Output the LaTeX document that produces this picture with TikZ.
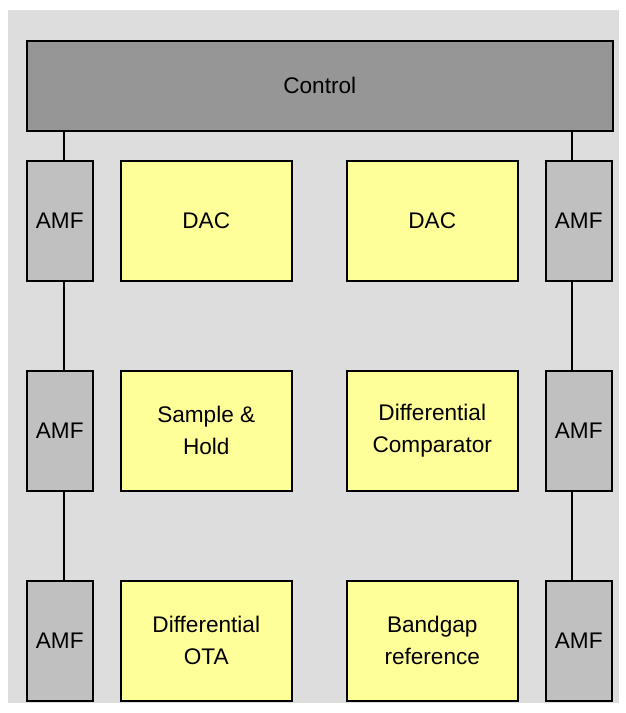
\documentclass[tikz,border=0pt]{standalone}
\usepackage{fontspec}
\setmainfont{Liberation Sans}
\definecolor{bgc}{HTML}{DDDDDD}
\definecolor{ctlc}{HTML}{969696}
\definecolor{amfc}{HTML}{C0C0C0}
\definecolor{yelc}{HTML}{FFFF99}
\begin{document}
\begin{tikzpicture}[x=1pt,y=-1pt,
  box/.style={draw=black,line width=1.5pt,anchor=north west,inner sep=0pt,align=center,
    font=\fontsize{22.6}{32}\selectfont},
  amf/.style={box,fill=amfc,minimum width=66pt,minimum height=120pt},
  blk/.style={box,fill=yelc,minimum width=171pt,minimum height=120pt},
  wire/.style={line width=1.5pt}]
\useasboundingbox (0,0) rectangle (625,713);
\fill[bgc] (8,10) rectangle (619,703);
\node[box,fill=ctlc,minimum width=586pt,minimum height=90pt] (ctl) at (26,40) {Control};
\node[amf] (L1) at (26,160) {AMF};
\node[amf] (L2) at (26,370) {AMF};
\node[amf] (L3) at (26,580) {AMF};
\node[amf] (R1) at (545,160) {AMF};
\node[amf] (R2) at (545,370) {AMF};
\node[amf] (R3) at (545,580) {AMF};
\node[blk] (d1) at (120,160) {DAC};
\node[blk] (d2) at (346,160) {DAC};
\node[blk] (sh) at (120,370) {Sample \&\\Hold};
\node[blk] (dc) at (346,370) {Differential\\Comparator};
\node[blk] (ota) at (120,580) {Differential\\OTA};
\node[blk] (bg) at (346,580) {Bandgap\\reference};
\coordinate (cl) at (64,0);
\coordinate (cr) at (572,0);
\draw[wire] (cl |- ctl.south) -- (cl |- L1.north);
\draw[wire] (cl |- L1.south) -- (cl |- L2.north);
\draw[wire] (cl |- L2.south) -- (cl |- L3.north);
\draw[wire] (cr |- ctl.south) -- (cr |- R1.north);
\draw[wire] (cr |- R1.south) -- (cr |- R2.north);
\draw[wire] (cr |- R2.south) -- (cr |- R3.north);
\end{tikzpicture}
\end{document}
